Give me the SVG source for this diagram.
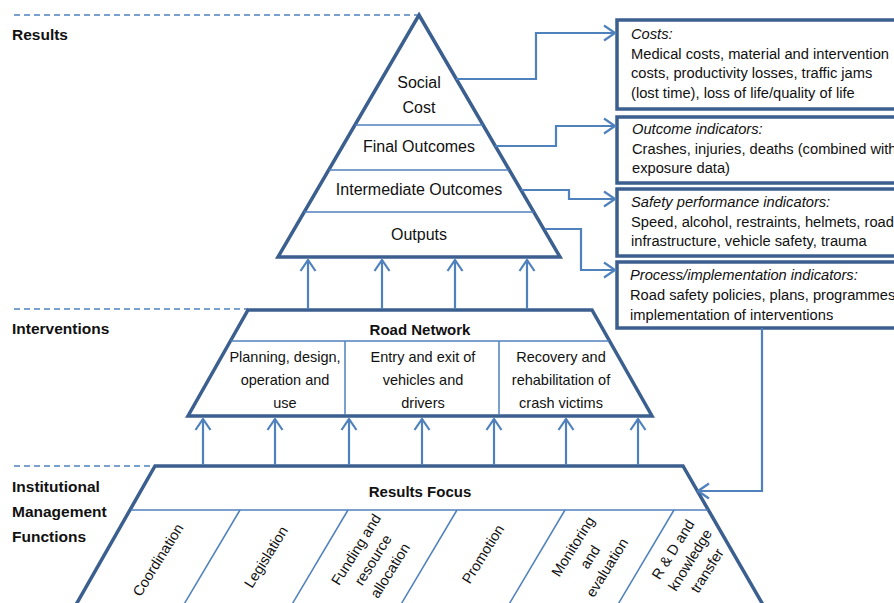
<svg xmlns="http://www.w3.org/2000/svg" width="894" height="603" viewBox="0 0 894 603">
<defs>
<style>
.outline{fill:#fff;stroke:#3b5f8e;stroke-width:3.5;stroke-linejoin:miter}
.thin{fill:none;stroke:#4f81bd;stroke-width:1.5}
.dash{fill:none;stroke:#4f81bd;stroke-width:1.3;stroke-dasharray:6 4}
.conn{fill:none;stroke:#4f81bd;stroke-width:2.2}
.box{fill:#fff;stroke:#3b5f8e;stroke-width:3.5}
text{font-family:"Liberation Sans",Arial,sans-serif;fill:#111}
.hd{font-weight:bold;font-size:15.5px}
.py{font-size:16px;text-anchor:middle}
.tb{font-weight:bold;font-size:15px;text-anchor:middle}
.tx{font-size:14.5px;text-anchor:middle}
.bx{font-size:14.7px}
.it{font-style:italic}
</style>
<marker id="arr" viewBox="0 0 14 18" refX="12.5" refY="9" markerWidth="14" markerHeight="18" markerUnits="userSpaceOnUse" orient="auto">
<path d="M1.5,1.5 L12.5,9 L1.5,16.5" fill="none" stroke="#4f81bd" stroke-width="2.2"/>
</marker>
</defs>
<rect width="894" height="603" fill="#fff"/>

<g id="level-labels">
<line class="dash" x1="14" y1="15" x2="417" y2="15"/>
<line class="dash" x1="14" y1="309" x2="248" y2="309"/>
<line class="dash" x1="14" y1="466" x2="155" y2="466"/>
<text class="hd" x="12" y="40">Results</text>
<text class="hd" x="12" y="334">Interventions</text>
<text class="hd" x="12" y="492">Institutional</text>
<text class="hd" x="12" y="517">Management</text>
<text class="hd" x="12" y="542">Functions</text>
</g>

<g id="results-pyramid">
<polygon class="outline" points="419,15 560,257 278,257"/>
<line class="thin" x1="355" y1="125" x2="483" y2="125"/>
<line class="thin" x1="329" y1="170" x2="509" y2="170"/>
<line class="thin" x1="304" y1="212" x2="534" y2="212"/>
<text class="py" x="419" y="88">Social</text>
<text class="py" x="419" y="113">Cost</text>
<text class="py" x="419" y="152">Final Outcomes</text>
<text class="py" x="419" y="195">Intermediate Outcomes</text>
<text class="py" x="419" y="240">Outputs</text>
</g>

<g id="road-network">
<polygon class="outline" points="248,310 592,310 652,416 188,416"/>
<line class="thin" x1="231" y1="341" x2="609" y2="341"/>
<line class="thin" x1="345" y1="341" x2="345" y2="415"/>
<line class="thin" x1="499" y1="341" x2="499" y2="415"/>
<text class="tb" x="420" y="335">Road Network</text>
<text class="tx" x="285" y="362">Planning, design,</text>
<text class="tx" x="285" y="385">operation and</text>
<text class="tx" x="285" y="408">use</text>
<text class="tx" x="423" y="362">Entry and exit of</text>
<text class="tx" x="423" y="385">vehicles and</text>
<text class="tx" x="423" y="408">drivers</text>
<text class="tx" x="561" y="362">Recovery and</text>
<text class="tx" x="561" y="385">rehabilitation of</text>
<text class="tx" x="561" y="408">crash victims</text>
</g>

<g id="results-focus">
<polygon class="outline" points="73,610 155,466 683,466 766,610"/>
<line class="thin" x1="131" y1="510" x2="708" y2="510"/>
<line class="thin" x1="240" y1="510" x2="183" y2="606"/>
<line class="thin" x1="348" y1="510" x2="291" y2="606"/>
<line class="thin" x1="457" y1="510" x2="400" y2="606"/>
<line class="thin" x1="565" y1="510" x2="508" y2="606"/>
<line class="thin" x1="674" y1="510" x2="617" y2="606"/>
<text class="tb" x="420" y="497">Results Focus</text>
<g transform="translate(158,560) rotate(-58)"><text class="tx" y="5">Coordination</text></g>
<g transform="translate(266,557) rotate(-58)"><text class="tx" y="5">Legislation</text></g>
<g transform="translate(373,560) rotate(-58)"><text class="tx"><tspan x="0" y="-15">Funding and</tspan><tspan x="0" y="5">resource</tspan><tspan x="0" y="25">allocation</tspan></text></g>
<g transform="translate(483,554) rotate(-58)"><text class="tx" y="5">Promotion</text></g>
<g transform="translate(590,557) rotate(-58)"><text class="tx"><tspan x="0" y="-15">Monitoring</tspan><tspan x="0" y="5">and</tspan><tspan x="0" y="25">evaluation</tspan></text></g>
<g transform="translate(690,560) rotate(-58)"><text class="tx"><tspan x="0" y="-15">R &amp; D and</tspan><tspan x="0" y="5">knowledge</tspan><tspan x="0" y="25">transfer</tspan></text></g>
</g>

<g id="box-costs">
<rect class="box" x="617" y="20" width="290" height="89"/>
<text class="bx it" x="631" y="39">Costs:</text>
<text class="bx" x="631" y="59">Medical costs, material and intervention</text>
<text class="bx" x="631" y="78">costs, productivity losses, traffic jams</text>
<text class="bx" x="631" y="98">(lost time), loss of life/quality of life</text>
</g>
<g id="box-outcome">
<rect class="box" x="617" y="117" width="290" height="66"/>
<text class="bx it" x="632" y="134">Outcome indicators:</text>
<text class="bx" x="632" y="154">Crashes, injuries, deaths (combined with</text>
<text class="bx" x="632" y="173">exposure data)</text>
</g>
<g id="box-safety">
<rect class="box" x="617" y="189" width="290" height="67"/>
<text class="bx it" x="631" y="207">Safety performance indicators:</text>
<text class="bx" x="631" y="227">Speed, alcohol, restraints, helmets, road</text>
<text class="bx" x="631" y="246">infrastructure, vehicle safety, trauma</text>
</g>
<g id="box-process">
<rect class="box" x="617" y="262" width="290" height="66"/>
<text class="bx it" x="630" y="280">Process/implementation indicators:</text>
<text class="bx" x="630" y="300">Road safety policies, plans, programmes,</text>
<text class="bx" x="630" y="320">implementation of interventions</text>
</g>

<g id="connectors">
<polyline class="conn" marker-end="url(#arr)" points="456,79 536,79 536,33 615,33"/>
<polyline class="conn" marker-end="url(#arr)" points="495,146 556,146 556,126 615,126"/>
<polyline class="conn" marker-end="url(#arr)" points="521,190 569,190 569,199 615,199"/>
<polyline class="conn" marker-end="url(#arr)" points="545,229 581,229 581,270 615,270"/>
<polyline class="conn" marker-end="url(#arr)" points="762,328 762,491 698,491"/>
<line class="conn" marker-end="url(#arr)" x1="308" y1="309" x2="308" y2="260"/>
<line class="conn" marker-end="url(#arr)" x1="382" y1="309" x2="382" y2="260"/>
<line class="conn" marker-end="url(#arr)" x1="455" y1="309" x2="455" y2="260"/>
<line class="conn" marker-end="url(#arr)" x1="527" y1="309" x2="527" y2="260"/>
<line class="conn" marker-end="url(#arr)" x1="203" y1="465" x2="203" y2="419"/>
<line class="conn" marker-end="url(#arr)" x1="275" y1="465" x2="275" y2="419"/>
<line class="conn" marker-end="url(#arr)" x1="349" y1="465" x2="349" y2="419"/>
<line class="conn" marker-end="url(#arr)" x1="422" y1="465" x2="422" y2="419"/>
<line class="conn" marker-end="url(#arr)" x1="494" y1="465" x2="494" y2="419"/>
<line class="conn" marker-end="url(#arr)" x1="566" y1="465" x2="566" y2="419"/>
<line class="conn" marker-end="url(#arr)" x1="638" y1="465" x2="638" y2="419"/>
</g>
</svg>
